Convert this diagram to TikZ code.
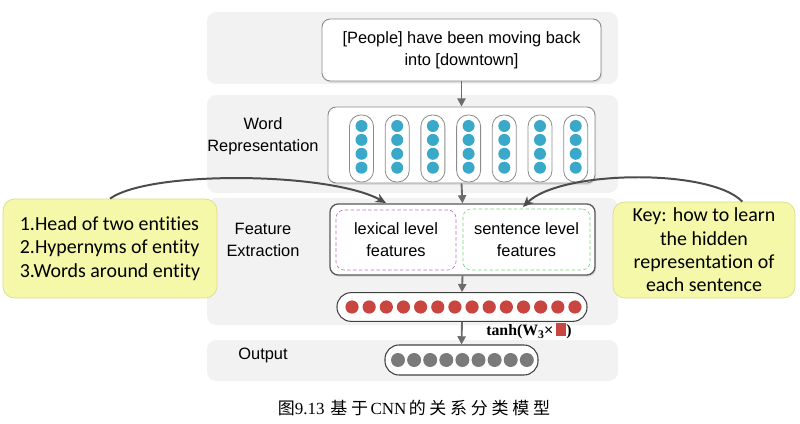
\documentclass[tikz,border=0pt]{standalone}
\usepackage{fontspec}
\setmainfont{Liberation Serif}
\setsansfont{Liberation Sans}
\newfontfamily\notefont[Ligatures=NoCommon]{Carlito}
\newfontfamily\cjk[LetterSpace=22]{Noto Sans CJK SC}
\usetikzlibrary{arrows.meta, positioning, calc, shadows}
\definecolor{bandgray}{HTML}{F2F2F2}
\definecolor{boxline}{HTML}{8C8C8C}
\definecolor{dotteal}{HTML}{3AA8C8}
\definecolor{dotred}{HTML}{C9453F}
\definecolor{dotgray}{HTML}{7A7A7A}
\definecolor{notefill}{HTML}{F4F8A8}
\definecolor{noteline}{HTML}{D9DD8E}

\begin{document}
\begin{tikzpicture}[x=0.03cm, y=-0.03cm,
  band/.style={fill=bandgray, rounded corners=8pt},
  box/.style={draw=boxline, fill=white, rounded corners=7pt, line width=0.8pt,
              drop shadow={opacity=0.18, shadow xshift=1pt, shadow yshift=-1.5pt}},
  pill/.style={draw=boxline, fill=white, line width=0.7pt, rounded corners=0.34cm,
               minimum width=0.72cm, minimum height=2.01cm},
  vec/.style={draw=black!75, fill=white, line width=0.9pt, rounded corners=0.42cm,
              minimum height=0.86cm},
  lbl/.style={font=\sffamily\fontsize{14}{19}\selectfont, align=center},
  note/.style={fill=notefill, draw=noteline, line width=0.6pt, rounded corners=10pt,
               font=\notefont\fontsize{17}{20}\selectfont},
  flow/.style={-{Triangle[length=7pt, width=7pt]}, draw=gray!85!black, line width=1.6pt},
  curve/.style={-{Stealth[length=9pt, width=8pt]}, draw=black!70, line width=1.7pt}
]
  \useasboundingbox (0,0) rectangle (800,424);

  % Background bands
  \fill[band] (207,12)  rectangle (618,84);
  \fill[band] (207,95)  rectangle (618,193);
  \fill[band] (207,198) rectangle (618,325);
  \fill[band] (207,340) rectangle (618,381);

  % Input sentence
  \node[box, lbl, minimum width=8.37cm, minimum height=1.86cm] (sent) at (461.5,50)
    {[People] have been moving back\\into [downtown]};

  % Word representation
  \node[lbl] (wordlbl) at (263,136) {Word\\Representation};
  \node[box, minimum width=8.01cm, minimum height=2.28cm] (words) at (461.5,145) {};
  \foreach \i in {0,...,6} {
    \node[pill] (w\i) at ({361.5+35.7*\i},148.5) {};
    \foreach \j in {0,...,3}
      \fill[dotteal] ({361.5+35.7*\i},{126+13.9*\j}) circle (6);
  }

  % Feature extraction
  \node[lbl] (featlbl) at (263,240) {Feature\\Extraction};
  \node[box, draw=black!65, line width=1.1pt, minimum width=7.95cm, minimum height=2.13cm]
    (feat) at (462.5,239.5) {};
  \node[lbl, draw=violet!55, densely dashed, line width=0.5pt, fill=white, rounded corners=7pt,
        minimum width=3.6cm, minimum height=1.8cm] (lex) at (396,240) {lexical level\\features};
  \node[lbl, draw=green!50!gray!70, densely dashed, line width=0.5pt, fill=white, rounded corners=7pt,
        minimum width=3.81cm, minimum height=1.83cm] (sentf) at (526.5,239.5) {sentence level\\features};

  % Hidden layer
  \node[vec, minimum width=7.5cm] (hidden) at (462,307) {};
  \foreach \i in {0,...,13}
    \fill[dotred] ({352+17.15*\i},307) circle (6.6);

  % Output
  \node[lbl] (outlbl) at (263,355) {Output};
  \node[vec, minimum width=4.59cm, minimum height=0.9cm] (out) at (461.5,360) {};
  \foreach \i in {0,...,8}
    \fill[dotgray] ({398+16.1*\i},360) circle (7);
  \node[font=\bfseries\fontsize{13.5}{15}\selectfont] (tanh) at (529,331)
    {tanh(W\raisebox{-3pt}{\fontsize{10}{10}\selectfont 3}{\sffamily\mdseries ×}\,%
     \textcolor{dotred}{\rule[-1pt]{9pt}{11pt}})};

  % Main flow
  \draw[flow] (sent.south)   -- (words.north);
  \draw[flow] (words.south)  -- (feat.north);
  \draw[flow] (feat.south)   -- (hidden.north);
  \draw[flow] (hidden.south) -- (out.north);

  % Notes
  \node[note, align=left, minimum width=6.42cm, minimum height=2.97cm] (leftnote) at (110,248.5)
    {1.Head of two entities\\2.Hypernyms of entity\\3.Words around entity};
  \node[note, align=center, minimum width=5.46cm, minimum height=2.88cm] (rightnote) at (704,250)
    {Key: how to learn\\the hidden\\representation of\\each sentence};
  \coordinate (lextip) at (386,203);
  \coordinate (sentip) at (523,207);
  \draw[curve] (leftnote.north) .. controls (150,170) and (330,172) .. (lextip);
  \draw[curve] ([xshift=1.15cm]rightnote.north) .. controls (710,168) and (560,170) .. (sentip);

  % Caption
  \node[font=\fontsize{14.5}{18}\selectfont] (caption) at (414,408)
    {{\cjk 图}9.13\hspace{5pt}{\cjk 基于}\hspace{2pt}CNN\hspace{2pt}{\cjk 的关系分类模型}};
\end{tikzpicture}
\end{document}
